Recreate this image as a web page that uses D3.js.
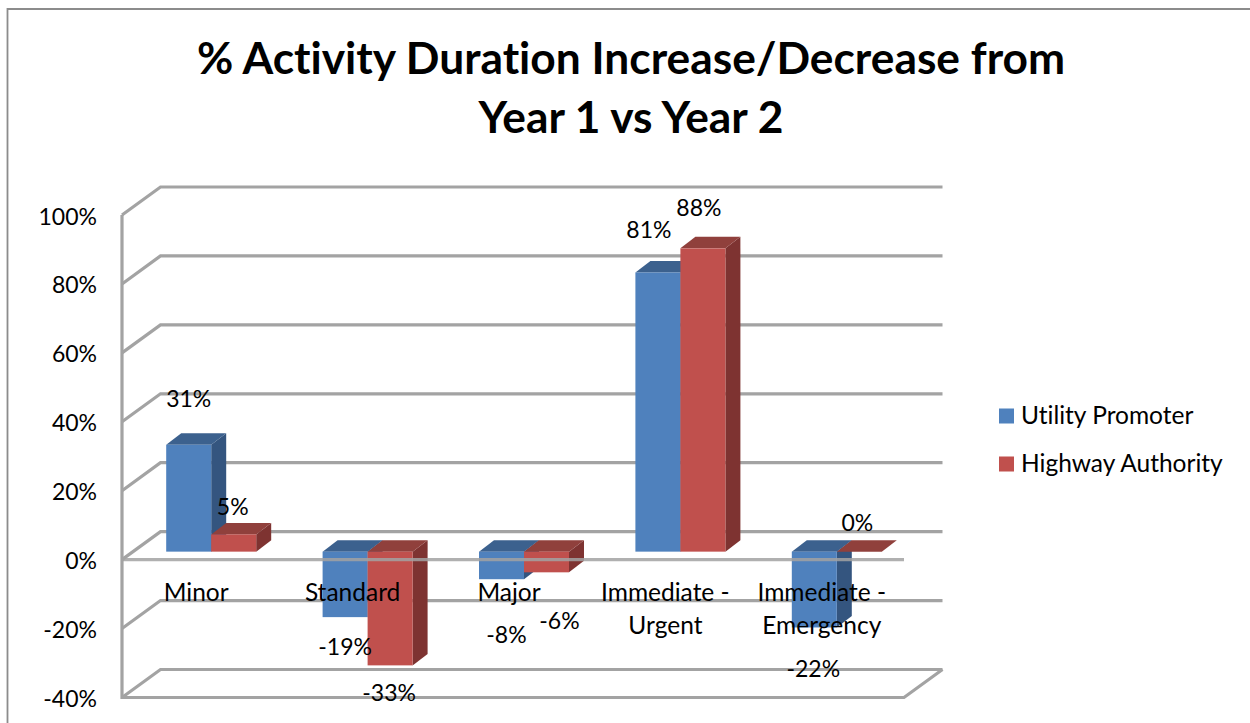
<!DOCTYPE html>
<html><head><meta charset="utf-8">
<script src="https://cdn.jsdelivr.net/npm/d3@7"></script>
<style>html,body{margin:0;padding:0;background:#fff}svg{display:block}text{font-family:Lato,"Open Sans",sans-serif;fill:#000;font-variant-ligatures:none}</style>
</head><body><svg id="c" width="1250" height="723"></svg>
<script>
const categories=[["Minor"],["Standard"],["Major"],["Immediate -","Urgent"],["Immediate -","Emergency"]];
const seriesNames=["Utility Promoter","Highway Authority"];
const utilityPromoter=[31,-19,-8,81,-22];
const highwayAuthority=[5,-33,-6,88,0];
const yTicks=[100,80,60,40,20,0,-20,-40];
const titleLines=["% Activity Duration Increase/Decrease from","Year 1 vs Year 2"];

const frontFill=["#4f81bd","#c0504d"],topFill=["#3c618e","#90403c"],sideFill=["#34557f","#7e3331"];
const gridColor="#a3a3a3";
const svg=d3.select("#c");
const y=d3.scaleLinear().domain([-40,100]).range([697.5,215]);
const x=d3.scaleBand().domain(d3.range(categories.length)).range([122,904]);
const wall={dx:38.5,dy:-28}, barPlane={dx:11,dy:-8}, depth={dx:15,dy:-11.5};
const barW=45;
const poly=pts=>pts.map(p=>p.join(",")).join(" ");

svg.append("path").attr("d","M7.5,740V9H1250").attr("fill","none").attr("stroke","#8c8c8c").attr("stroke-width",1.8);

svg.selectAll("text.title").data(titleLines).join("text").attr("class","title")
 .attr("x",631).attr("y",(d,i)=>74+i*59).attr("text-anchor","middle")
 .attr("font-size",44.3).attr("font-weight",700).text(d=>d);

const grid=svg.append("g").attr("fill","none").attr("stroke",gridColor).attr("stroke-width",3.2);
yTicks.forEach(t=>{
  const Y=y(t);
  grid.append("path").attr("d",d3.line()([[122,Y],[122+wall.dx,Y+wall.dy],[904+wall.dx,Y+wall.dy]]));
});
grid.append("path").attr("d",d3.line()([[122,y(100)],[122,y(-40)],[904,y(-40)],[904+wall.dx,y(-40)+wall.dy]]));

svg.selectAll("text.ytick").data(yTicks).join("text").attr("class","ytick")
 .attr("x",97).attr("y",t=>y(t)+9.5).attr("text-anchor","end").attr("font-size",23).text(t=>t+"%");

const bars=svg.append("g");
[utilityPromoter,highwayAuthority].forEach((vals,s)=>{
  vals.forEach((v,i)=>{
    const cx=x(i)+x.bandwidth()/2+barPlane.dx;
    const x0=cx-barW+s*barW, x1=x0+barW;
    const yv=y(v)+barPlane.dy, y0=y(0)+barPlane.dy;
    const top=Math.min(yv,y0), bot=Math.max(yv,y0);
    const g=bars.append("g");
    g.append("polygon").attr("points",poly([[x1,top],[x1+depth.dx,top+depth.dy],[x1+depth.dx,bot+depth.dy],[x1,bot]])).attr("fill",sideFill[s]);
    g.append("polygon").attr("points",poly([[x0,top],[x0+depth.dx,top+depth.dy],[x1+depth.dx,top+depth.dy],[x1,top]])).attr("fill",topFill[s]);
    if(v!==0) g.append("rect").attr("x",x0).attr("y",top).attr("width",barW).attr("height",bot-top).attr("fill",frontFill[s]);
  });
});

svg.append("line").attr("x1",122).attr("x2",904).attr("y1",y(0)).attr("y2",y(0)).attr("stroke",gridColor).attr("stroke-width",3.2).attr("opacity",.85);

const catNudge=-4;
svg.selectAll("text.cat").data(categories).join("text").attr("class","cat")
 .attr("text-anchor","middle").attr("font-size",24.5)
 .each(function(lines,i){
   d3.select(this).selectAll("tspan").data(lines).join("tspan")
    .attr("x",x(i)+x.bandwidth()/2+catNudge).attr("y",(l,j)=>y(0)+41+j*33).text(l=>l);
 });

const nudge=[[[0,-38],[-1,-19]],[[0,38],[-1,36]],[[5,64],[13,57]],[[-9,-34],[-4,-32]],[[-1,50],[-2,-21]]];
[utilityPromoter,highwayAuthority].forEach((vals,s)=>{
  vals.forEach((v,i)=>{
    const cx=x(i)+x.bandwidth()/2+barPlane.dx;
    svg.append("text").attr("class","dl").attr("text-anchor","middle").attr("font-size",23)
      .attr("x",cx-barW/2+s*barW+nudge[i][s][0]).attr("y",y(v)+barPlane.dy+nudge[i][s][1]).text(v+"%");
  });
});

seriesNames.forEach((n,s)=>{
  const Y=[416,464][s];
  svg.append("rect").attr("x",999).attr("y",Y-7.5).attr("width",15).attr("height",15).attr("fill",frontFill[s]);
  svg.append("text").attr("x",1021).attr("y",Y+8).attr("font-size",24.5).text(n);
});
</script></body></html>
